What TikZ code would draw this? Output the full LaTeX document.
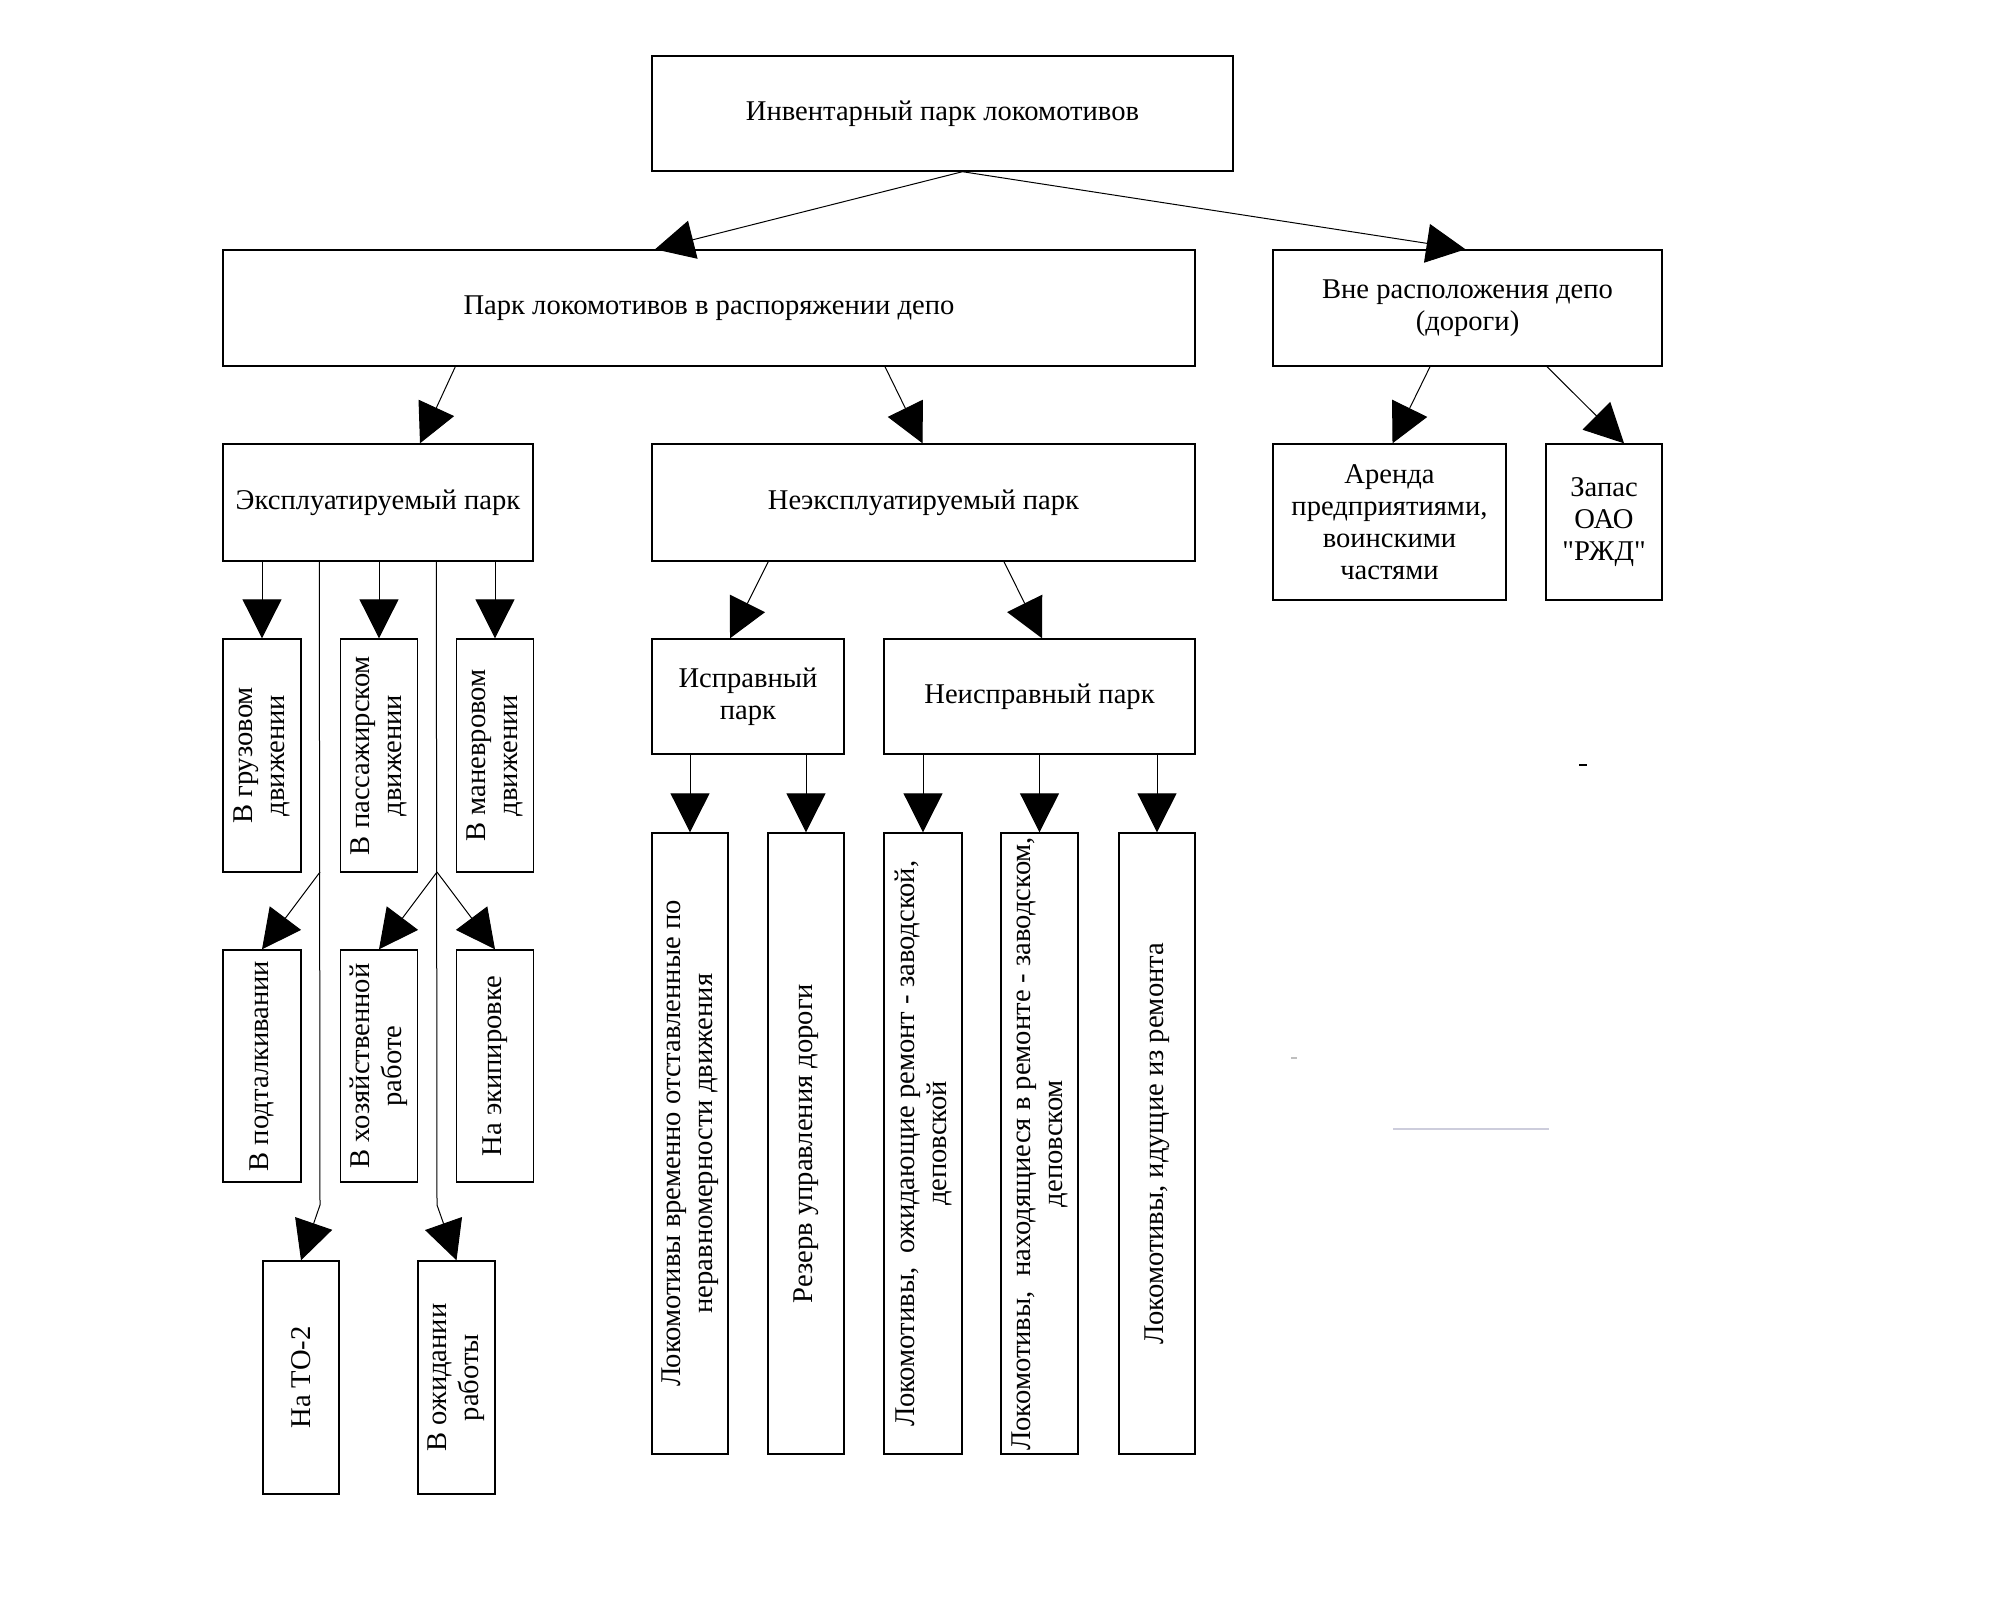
\documentclass[tikz,border=0pt]{standalone}
\usepackage{fontspec}
\setmainfont{Liberation Serif}
\newfontfamily\plainquote{Liberation Serif}[Ligatures=TeXOff]
\usetikzlibrary{arrows.meta,calc}
\newcommand\diagfont{\fontsize{14.3pt}{16pt}\selectfont}
\tikzset{
  box/.style={draw, line width=0.7pt, inner sep=0pt, align=center, font=\diagfont},
  hbox/.style 2 args={box, minimum width=#1*0.5pt, minimum height=#2*0.5pt},
  vbox/.style 2 args={box, rotate=90, minimum width=#2*0.5pt, minimum height=#1*0.5pt},
  arr/.style={-{Triangle[length=19.5pt,width=19.5pt]}, line width=0.5pt},
  ln/.style={line width=0.5pt}
}
\begin{document}
\begin{tikzpicture}[x=0.5pt,y=-0.5pt]
\useasboundingbox (0,0) rectangle (2000,1600);
% row 1
\node[hbox={581}{115}] (top) at (942.5,113.5) {Инвентарный парк локомотивов};
% row 2
\node[hbox={972}{116}] (park) at (709,308) {Парк локомотивов в распоряжении депо};
\node[hbox={389}{116}] (vne) at (1467.5,308) {Вне расположения депо\\(дороги)};
% row 3
\node[hbox={310}{117}] (eksp) at (378,502.5) {Эксплуатируемый парк};
\node[hbox={543}{117}] (neeksp) at (923.5,502.5) {Неэксплуатируемый парк};
\node[hbox={233}{156}] (arenda) at (1389.5,522) {Аренда\\предприятиями,\\воинскими\\частями};
\node[hbox={116}{156}] (zapas) at (1604,522) {Запас\\ОАО\\{\plainquote "РЖД"}};
% row 4
\node[vbox={78}{233}] (gruz) at (262,755.5) {В грузовом\\движении};
\node[vbox={77}{233}] (pass) at (379,755.5) {В пассажирском\\движении};
\node[vbox={77}{233}] (manev) at (495,755.5) {В маневровом\\движении};
\node[hbox={192}{115}] (ispr) at (748,696.5) {Исправный\\парк};
\node[hbox={311}{115}] (neispr) at (1039.5,696.5) {Неисправный парк};
% row 5
\node[vbox={78}{232}] (podt) at (262,1066) {В подталкивании};
\node[vbox={77}{232}] (hoz) at (379,1066) {В хозяйственной\\работе};
\node[vbox={77}{232}] (ekip) at (495,1066) {На экипировке};
% row 6
\node[vbox={76}{233}] (to2) at (301,1377.5) {На ТО-2};
\node[vbox={77}{233}] (ozhid) at (456.5,1377.5) {В ожидании\\работы};
% long boxes
\node[vbox={76}{621}] (la) at (690,1143.5) {Локомотивы временно отставленные по\\неравномерности движения};
\node[vbox={76}{621}] (lb) at (806,1143.5) {Резерв управления дороги};
\node[vbox={78}{621}] (lc) at (923,1143.5) {Локомотивы, \ ожидающие ремонт - заводской,\\деповской};
\node[vbox={77}{621}] (ld) at (1039.5,1143.5) {Локомотивы, \ находящиеся в ремонте - заводском,\\деповском};
\node[vbox={76}{621}] (le) at (1157,1143.5) {Локомотивы, идущие из ремонта};

% connectors row1 -> row2
\draw[arr] ($(top.south)+(20,0)$) -- ($(park.north)+(-54,0)$);
\draw[arr] ($(top.south)+(20,0)$) -- ($(vne.north)+(-2,0)$);
% row2 -> row3
\draw[arr] ($(park.south west)+(233,0)$) -- ($(eksp.north)+(42,0)$);
\draw[arr] ($(park.south)+(176,0)$) -- ($(neeksp.north)+(-1,0)$);
\draw[arr] ($(vne.south)+(-37.5,0)$) -- ($(arenda.north)+(3,0)$);
\draw[arr] ($(vne.south)+(79.5,0)$) -- ($(zapas.north)+(20,0)$);
% eksp -> row4
\draw[arr] (eksp.south -| gruz.east) -- (gruz.east);
\draw[arr] (eksp.south -| pass.east) -- (pass.east);
\draw[arr] (eksp.south -| manev.east) -- (manev.east);
% long trunks
\coordinate (t1top) at ($(eksp.south west)+(97,0)$);
\coordinate (t1mid) at (320,872);
\coordinate (t1bot) at (320,1205);
\coordinate (t2top) at ($(eksp.south west)+(214,0)$);
\coordinate (t2mid) at (437,872);
\coordinate (t2bot) at (437,1205);
\draw[arr] (t1top) -- (t1bot) -- (to2.east);
\draw[arr] (t1mid) -- (podt.east);
\draw[arr] (t2top) -- (t2bot) -- (ozhid.east);
\draw[arr] (t2mid) -- (hoz.east);
\draw[arr] (t2mid) -- (ekip.east);
% neeksp -> row4
\draw[arr] ($(neeksp.south west)+(117,0)$) -- ($(ispr.north)+(-18,0)$);
\draw[arr] ($(neeksp.south)+(80.5,0)$) -- ($(neispr.north)+(2.5,0)$);
% row4 -> long boxes
\draw[arr] (ispr.south -| la.east) -- (la.east);
\draw[arr] (ispr.south -| lb.east) -- (lb.east);
\draw[arr] (neispr.south -| lc.east) -- (lc.east);
\draw[arr] (neispr.south -| ld.east) -- (ld.east);
\draw[arr] (neispr.south -| le.east) -- (le.east);

% stray marks
\draw[line width=1pt] (1579,765) -- (1587,765);
\draw[line width=1pt, gray!50] (1291,1058) -- (1297,1058);
\draw[line width=1pt, color={rgb,255:red,205;green,205;blue,220}] (1393,1129) -- (1549,1129);
\end{tikzpicture}
\end{document}
